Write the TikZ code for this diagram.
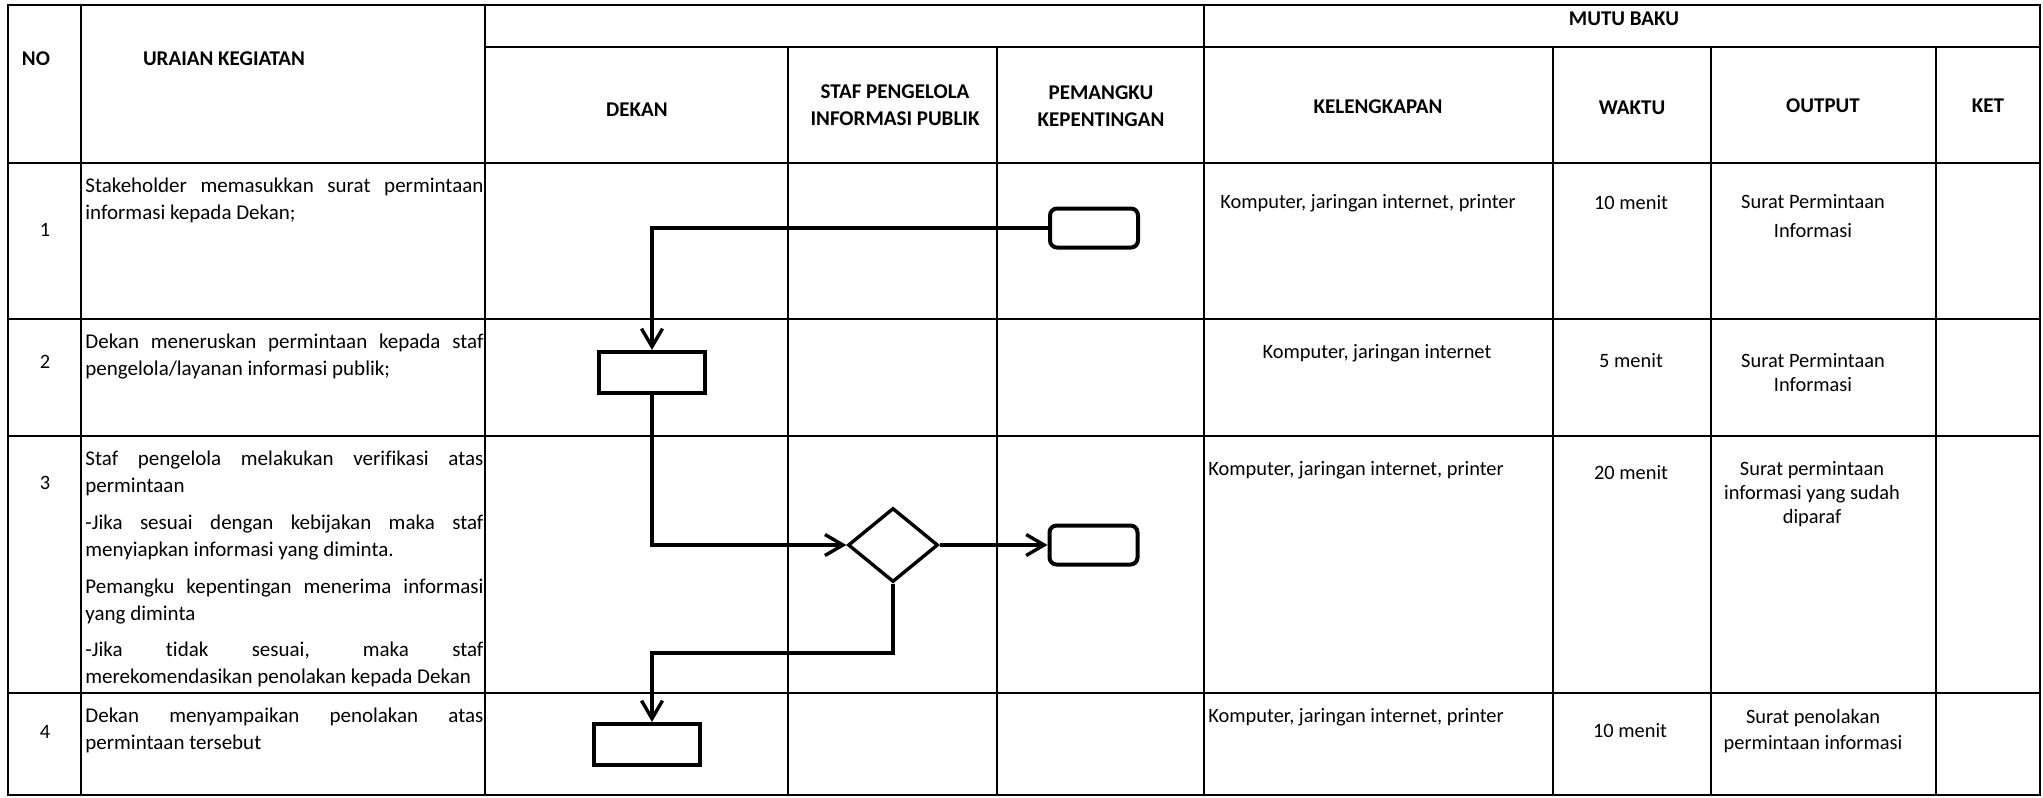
\documentclass[tikz,border=0pt]{standalone}
\usepackage{fontspec}
\setmainfont{Carlito}[Ligatures=NoCommon]
\usetikzlibrary{arrows.meta,shapes.geometric}

\begin{document}
\begin{tikzpicture}[x=0.5pt,y=-0.5pt,
    tabel/.style={line width=1.2pt, line cap=rect},
    judul/.style={font=\fontsize{10.5}{13.5}\selectfont\bfseries, align=center, inner sep=0pt},
    isi/.style={font=\fontsize{10.2}{12}\selectfont, align=center, inner sep=0pt},
    uraian/.style={font=\fontsize{10.5}{13.5}\selectfont, text width=199pt, align=justify, inner sep=0pt, anchor=north west},
    alur/.style={line width=1.7pt, -{Straight Barb[length=9pt,width=10.5pt]}},
    kotak/.style={draw, line width=2pt, minimum width=53pt, minimum height=20.5pt, inner sep=0pt},
    ujung/.style={kotak, rounded corners=3.5pt, minimum width=44pt, minimum height=19.5pt},
    putusan/.style={draw, diamond, line width=1.7pt, minimum width=45pt, minimum height=37pt, inner sep=0pt}]
    \useasboundingbox (0,0) rectangle (2043,797);

    \draw[tabel] (8,5) rectangle (2040,795);
    \foreach \x in {81,485,1204} \draw[tabel] (\x,5) -- (\x,795);
    \foreach \x in {788,997,1553,1711,1936} \draw[tabel] (\x,47) -- (\x,795);
    \draw[tabel] (485,47) -- (2040,47);
    \foreach \y in {163,319,436,693} \draw[tabel] (8,\y) -- (2040,\y);

    \node[judul] (no) at (36,59) {NO};
    \node[judul] (kegiatan) at (224,59) {URAIAN KEGIATAN};
    \node[judul] (mutu) at (1624,19) {MUTU BAKU};
    \node[judul] (dekan) at (637,110) {DEKAN};
    \node[judul] (staf) at (895,105) {STAF PENGELOLA\\INFORMASI PUBLIK};
    \node[judul] (pemangku) at (1101,106) {PEMANGKU\\KEPENTINGAN};
    \node[judul] (kelengkapan) at (1378,107) {KELENGKAPAN};
    \node[judul] (waktu) at (1632,108) {WAKTU};
    \node[judul] (output) at (1823,106) {OUTPUT};
    \node[judul] (ket) at (1988,106) {KET};

    \node[isi] (n1) at (45,230) {1};
    \node[isi] (n2) at (45,362) {2};
    \node[isi] (n3) at (45,483) {3};
    \node[isi] (n4) at (45,732) {4};

    \node[uraian] (u1) at (85,178) {Stakeholder memasukkan surat permintaan\linebreak informasi kepada Dekan;};
    \node[uraian] (u2) at (85,334) {Dekan meneruskan permintaan kepada staf\linebreak pengelola/layanan informasi publik;};
    \node[uraian] (u3) at (85,451) {\setlength{\parskip}{4.8pt}Staf pengelola melakukan verifikasi atas\linebreak permintaan\par
        -Jika sesuai dengan kebijakan maka staf\linebreak menyiapkan informasi yang diminta.\par
        Pemangku kepentingan menerima informasi\linebreak yang diminta\par
        -Jika tidak sesuai, maka staf\linebreak merekomendasikan penolakan kepada Dekan};
    \node[uraian] (u4) at (85,708) {Dekan menyampaikan penolakan atas\linebreak permintaan tersebut};

    \node[isi] (k1) at (1368,203) {Komputer, jaringan internet, printer};
    \node[isi] (k2) at (1377,353) {Komputer, jaringan internet};
    \node[isi, anchor=west] (k3) at (1208,470) {Komputer, jaringan internet, printer};
    \node[isi, anchor=west] (k4) at (1208,717) {Komputer, jaringan internet, printer};

    \node[isi] (w1) at (1631,203) {10 menit};
    \node[isi] (w2) at (1631,361) {5 menit};
    \node[isi] (w3) at (1631,473) {20 menit};
    \node[isi] (w4) at (1630,731) {10 menit};

    \node[isi] (o1) at (1813,216) {Surat Permintaan\\[2.5pt]Informasi};
    \node[isi] (o2) at (1813,373) {Surat Permintaan\\Informasi};
    \node[isi] (o3) at (1812,494) {Surat permintaan\\informasi yang sudah\\diparaf};
    \node[isi] (o4) at (1813,731) {Surat penolakan\\[1pt]permintaan informasi};

    \node[ujung] (minta) at (1094,228) {};
    \node[kotak] (terus) at (652,372.5) {};
    \node[putusan] (cek) at (893,545) {};
    \node[ujung] (terima) at (1093.5,545) {};
    \node[kotak] (tolak) at (647,744.5) {};
    \coordinate (belok) at (652,653);

    \draw[alur] (minta.west) -| (terus.north);
    \draw[alur] (terus.south) |- (cek.west);
    \draw[alur] (cek.east) -- (terima.west);
    \draw[alur] (cek.south) |- (belok) -- (belok |- tolak.north);
\end{tikzpicture}
\end{document}
